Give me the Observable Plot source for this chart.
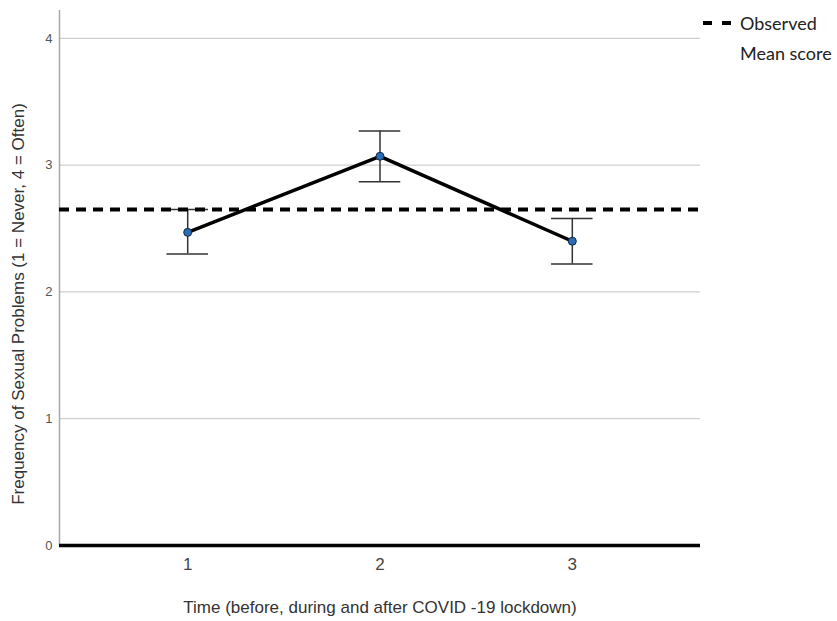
<!DOCTYPE html>
<html>
<head>
<meta charset="utf-8">
<script src="https://cdn.jsdelivr.net/npm/d3@7"></script>
<script src="https://cdn.jsdelivr.net/npm/@observablehq/plot@0.6"></script>
<style>
  html, body { margin: 0; padding: 0; background: #fff; }
  #wrap { position: relative; width: 837px; height: 621px; font-family: "Liberation Sans", Arial, sans-serif; }
  #legend { position: absolute; left: 700px; top: 8px; font-family: Lato, "Liberation Sans", sans-serif; font-size: 18px; color: #222; line-height: 30px; }
  #legend .row { display: flex; align-items: center; }
  #legend svg { margin-right: 8px; }
  #legend .indent { padding-left: 40px; }
</style>
</head>
<body>
<div id="wrap">
  <div id="chart"></div>
  <div id="legend">
    <div class="row"><svg width="32" height="6"><line x1="3" y1="3" x2="32" y2="3" stroke="#000" stroke-width="4" stroke-dasharray="9,10"></line></svg><span>Observed</span></div>
    <div class="indent">Mean score</div>
  </div>
</div>
<script>
const times = [1, 2, 3];
const means = [2.47, 3.07, 2.40];
const lower = [2.30, 2.87, 2.22];
const upper = [2.65, 3.27, 2.58];
const observedMean = [2.65];
const xTicks = [1, 2, 3];
const yTicks = [0, 1, 2, 3, 4];
const xDomain = [1 / 3, 11 / 3];
const yDomain = [0, 4.22];
const xTitle = "Time (before, during and after COVID -19 lockdown)";
const yTitle = "Frequency of Sexual Problems (1 = Never, 4 = Often)";

const capHalf = 0.108;
const data = times.map((t, i) => ({t, mean: means[i], lo: lower[i], hi: upper[i]}));

const chart = Plot.plot({
  width: 837,
  height: 621,
  marginLeft: 59,
  marginRight: 137,
  marginTop: 10,
  marginBottom: 76,
  style: {fontFamily: "'Liberation Sans', Arial, sans-serif", background: "#fff"},
  x: {domain: xDomain, ticks: xTicks},
  y: {domain: yDomain, ticks: yTicks},
  marks: [
    Plot.gridY(yTicks.filter(d => d > 0), {stroke: "#cfcfcf", strokeOpacity: 1, strokeWidth: 1.3}),
    Plot.ruleX([xDomain[0]], {stroke: "#a8a8a8", strokeWidth: 1.5}),
    Plot.ruleY([0], {stroke: "#000", strokeWidth: 3.5}),
    Plot.axisY({ticks: yTicks, tickSize: 0, tickPadding: 7, fontSize: 13, fill: "#555", label: null, tickFormat: d3.format("d")}),
    Plot.axisX({ticks: xTicks, tickSize: 0, tickPadding: 12, fontSize: 17, fill: "#444", label: null, tickFormat: d3.format("d")}),
    Plot.ruleX(data, {x: "t", y1: "lo", y2: "hi", stroke: "#333", strokeWidth: 1.5}),
    Plot.ruleY(data, {y: "hi", x1: d => d.t - capHalf, x2: d => d.t + capHalf, stroke: "#333", strokeWidth: 1.5}),
    Plot.ruleY(data, {y: "lo", x1: d => d.t - capHalf, x2: d => d.t + capHalf, stroke: "#333", strokeWidth: 1.5}),
    Plot.ruleY(observedMean, {stroke: "#000", strokeWidth: 4, strokeDasharray: "10,7"}),
    Plot.line(data, {x: "t", y: "mean", stroke: "#000", strokeWidth: 3.5}),
    Plot.dot(data, {x: "t", y: "mean", r: 4, fill: "#2b6cb3", stroke: "#0e2a4a", strokeWidth: 1}),
    Plot.text([xTitle], {frameAnchor: "bottom", dy: 62, fontSize: 17, fill: "#333", lineAnchor: "middle", textAnchor: "middle"}),
    Plot.text([yTitle], {frameAnchor: "left", dx: -41, dy: 26, rotate: -90, fontSize: 17, fill: "#333", lineAnchor: "middle", textAnchor: "middle"})
  ]
});
document.getElementById("chart").appendChild(chart);
</script>
</body>
</html>
